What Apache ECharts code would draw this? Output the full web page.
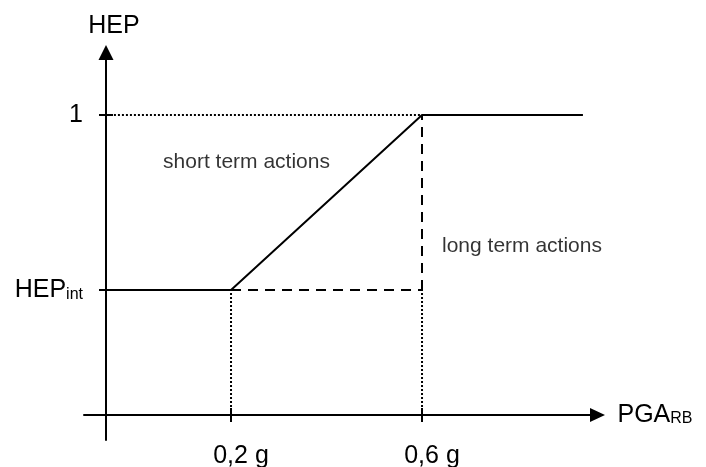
<!DOCTYPE html>
<html>
<head>
<meta charset="utf-8">
<script src="https://cdn.jsdelivr.net/npm/echarts@6/dist/echarts.min.js"></script>
<style>
  html, body { margin: 0; padding: 0; background: #fff; }
  #chart { width: 706px; height: 467px; }
</style>
</head>
<body>
<div id="chart"></div>
<script>
// schematic HEP vs PGA curve
const pgaTicks = [0.2, 0.6];
const pgaLabels = ["0,2 g", "0,6 g"];
const hepInt = 0.4167;
const hepTicks = [hepInt, 1];
const hepLabels = ["HEP{sub|int}", "1"];
const axisX = -0.062; // where the HEP axis crosses
const curve = [[axisX, hepInt], [0.2, hepInt], [0.6, 1], [0.937, 1]];
const dottedTop = [[axisX, 1], [0.6, 1]];
const dottedLeft = [[0.2, 0], [0.2, hepInt]];
const dottedRight = [[0.6, 0], [0.6, hepInt]];
const dashedH = [[0.2, hepInt], [0.6, hepInt]];
const dashedV = [[0.6, hepInt], [0.6, 1]];
const notes = [
  { text: "short term actions", pos: [0.0576, 0.8433] },
  { text: "long term actions", pos: [0.6419, 0.5633] },
];

const font = "Liberation Sans, Arial, sans-serif";
const xMin = -0.1079, xMax = 0.9675;
const yMin = -0.0833, yMax = 1.2083;

const chart = echarts.init(document.getElementById("chart"));

function line(data, type, width) {
  return {
    type: "line",
    data: data,
    symbol: "none",
    silent: true,
    lineStyle: { color: "#000", width: width, type: type },
  };
}

const noteLabel = {
  show: true,
  position: "right",
  distance: 0,
  color: "#000",
  fontFamily: font,
  fontSize: 21,
};

chart.setOption({
  animation: false,
  grid: { left: 84, right: 108.5, top: 52.5, bottom: 27, outerBoundsMode: "none", containLabel: false },
  xAxis: [
    {
      type: "value",
      min: xMin,
      max: xMax,
      splitLine: { show: false },
      axisLine: {
        onZero: true,
        symbol: ["none", "triangle"],
        symbolSize: [14, 15],
        lineStyle: { color: "#000", width: 2 },
      },
      axisTick: { customValues: pgaTicks, length: 7, lineStyle: { color: "#000", width: 2 } },
      axisLabel: {
        customValues: pgaTicks,
        formatter: (v) => pgaLabels[pgaTicks.indexOf(v)],
        margin: 4,
        padding: [0, 0, 0, 20],
        color: "#000",
        fontFamily: font,
        fontSize: 25,
      },
      name: "PGA{sub|RB}",
      nameLocation: "end",
      nameGap: 20,
      nameTextStyle: {
        color: "#000",
        fontFamily: font,
        fontSize: 25,
        align: "left",
        verticalAlign: "middle",
        rich: {
          sub: { fontFamily: font, fontSize: 16, color: "#000", padding: [8, 0, 0, 0] },
        },
      },
    },
    {
      type: "value",
      min: xMin,
      max: xMax,
      position: "top",
      splitLine: { show: false },
      axisLine: { show: false, onZero: true },
      axisTick: { customValues: pgaTicks, length: 7, lineStyle: { color: "#000", width: 2 } },
      axisLabel: { show: false },
    },
  ],
  yAxis: [
    {
      type: "value",
      min: yMin,
      max: yMax,
      offset: -22,
      splitLine: { show: false },
      axisLine: {
        onZero: false,
        symbol: ["none", "triangle"],
        symbolSize: [15, 15],
        lineStyle: { color: "#000", width: 2 },
      },
      axisTick: { customValues: hepTicks, length: 7, lineStyle: { color: "#000", width: 2 } },
      axisLabel: {
        customValues: hepTicks,
        formatter: (v) => hepLabels[hepTicks.indexOf(v)],
        margin: 23,
        color: "#000",
        fontFamily: font,
        fontSize: 25,
        rich: {
          sub: { fontFamily: font, fontSize: 16, color: "#000", padding: [9, 0, 0, 0] },
        },
      },
      name: "HEP",
      nameLocation: "end",
      nameGap: 14,
      nameTextStyle: {
        color: "#000",
        fontFamily: font,
        fontSize: 25,
        padding: [0, 0, 0, 16],
      },
    },
    {
      type: "value",
      min: yMin,
      max: yMax,
      position: "right",
      offset: -491.5,
      splitLine: { show: false },
      axisLine: { show: false, onZero: false },
      axisTick: { customValues: hepTicks, length: 7, lineStyle: { color: "#000", width: 2 } },
      axisLabel: { show: false },
    },
  ],
  series: [
    line(dottedTop, [2, 2], 2),
    line(dottedLeft, [2, 2], 2),
    line(dottedRight, [2, 2], 2),
    line(dashedH, [10, 7], 2),
    line(dashedV, [10, 7], 2),
    line(curve, "solid", 2),
    {
      type: "scatter",
      symbolSize: 0,
      silent: true,
      itemStyle: { color: "#000" },
      data: notes.map((n) => ({
        value: n.pos,
        label: Object.assign({}, noteLabel, { formatter: n.text }),
      })),
      label: noteLabel,
    },
  ],
});
</script>
</body>
</html>
